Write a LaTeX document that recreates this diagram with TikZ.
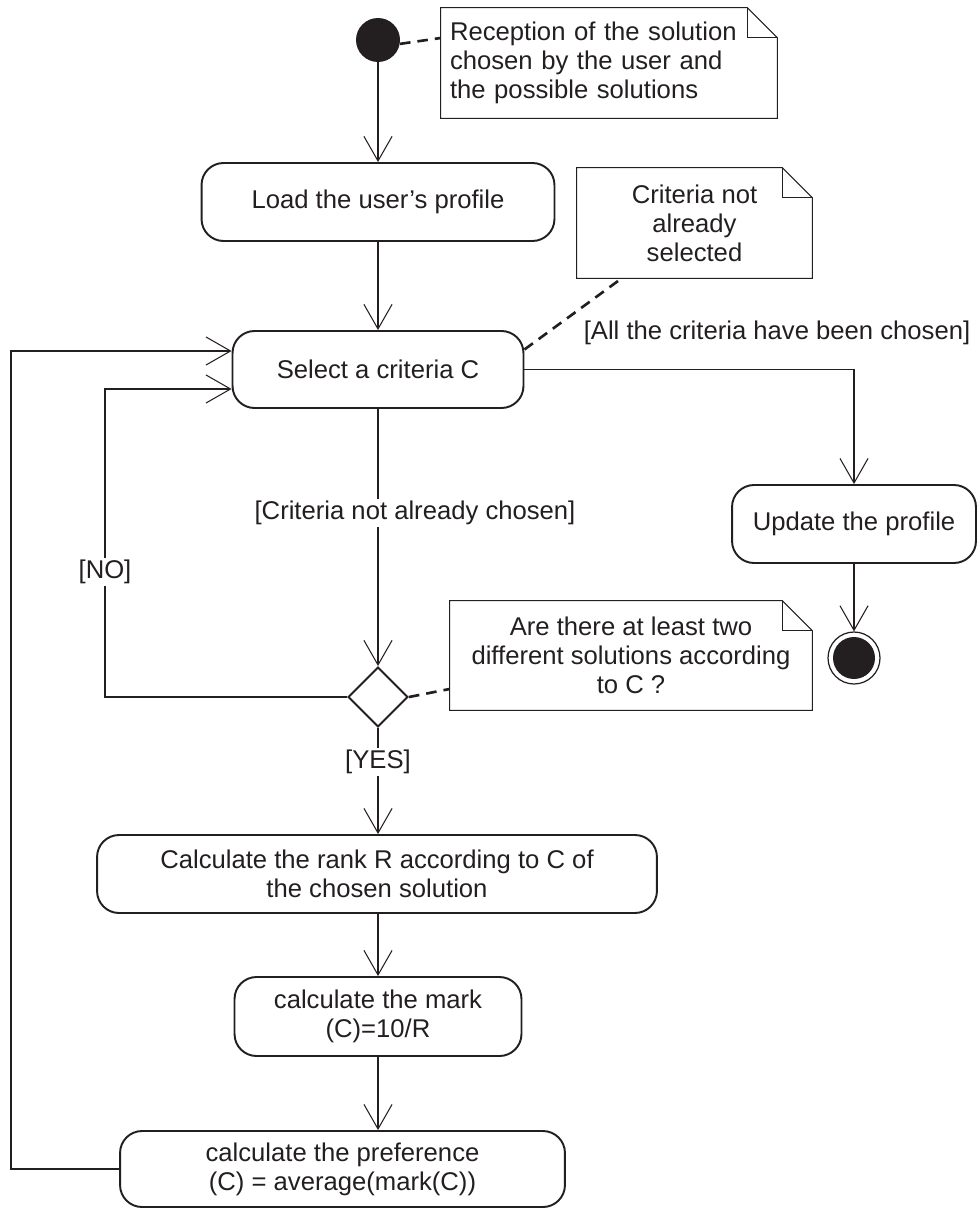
\documentclass[tikz,border=0pt]{standalone}
\usepackage{fontspec}
\setmainfont{Liberation Sans}
\usetikzlibrary{arrows.meta,shapes.geometric}
\definecolor{ink}{RGB}{35,31,32}
\begin{document}
\begin{tikzpicture}[x=0.02cm,y=-0.02cm,
  every node/.style={text=ink,font=\fontsize{14.6pt}{16.6pt}\selectfont},
  box/.style={draw=ink,rectangle,rounded corners=0.44cm,line width=1.1pt,align=center,inner sep=0pt},
  conn/.style={draw=ink,line width=0.6pt,-{Straight Barb[length=14pt,width=16pt,line width=0.6pt]}},
  dashline/.style={draw=ink,line width=1.5pt,dash pattern=on 6pt off 4pt},
  notebox/.style={rectangle,inner sep=0pt,align=center},
  lbl/.style={fill=white,inner sep=1pt}]
\useasboundingbox (0,0) rectangle (979,1209);

% nodes
\node[circle,fill=ink,minimum size=0.88cm,inner sep=0pt] (start) at (378,40) {};
\node[box,minimum width=7.06cm,minimum height=1.56cm] (load) at (378,202) {Load the user’s profile};
\node[box,minimum width=5.82cm,minimum height=1.54cm] (select) at (378,369.5) {Select a criteria C};
\node[box,minimum width=4.88cm,minimum height=1.56cm] (update) at (854,524) {Update the profile};
\node[circle,draw=ink,line width=0.7pt,minimum size=1.04cm,inner sep=0pt,
  path picture={\fill[ink] (path picture bounding box.center) circle (0.42cm);}] (end) at (854,658) {};
\node[diamond,draw=ink,line width=1.1pt,minimum width=1.2cm,minimum height=1.2cm,inner sep=0pt] (dec) at (378,697) {};
\node[box,minimum width=11.2cm,minimum height=1.56cm] (rank) at (377,874) {Calculate the rank R according to C of\\the chosen solution};
\node[box,minimum width=5.74cm,minimum height=1.58cm] (mark) at (378,1016.5) {calculate the mark\\(C)=10/R};
\node[box,minimum width=8.9cm,minimum height=1.52cm] (pref) at (342.5,1169) {calculate the preference\\(C) = average(mark(C))};

% notes
\node[notebox,text width=6.36cm,inner xsep=0.18cm,align=left,minimum height=2.2cm] (note1) at (609,63)
  {Reception of the solution\\chosen by the user and\\the possible solutions};
\node[notebox,minimum width=4.7cm,minimum height=2.2cm] (note2) at (694.5,223)
  {Criteria not\\already\\selected};
\node[notebox,minimum width=7.24cm,minimum height=2.18cm] (note3) at (631,655.5)
  {Are there at least two\\different solutions according\\to C ?};
\foreach \n in {note1,note2,note3}{
  \draw[ink,line width=0.6pt] (\n.south west) -- (\n.north west) -- ([xshift=-0.6cm]\n.north east)
    -- ([yshift=-0.6cm]\n.north east) -- (\n.south east) -- cycle;
  \draw[ink,line width=0.6pt] ([xshift=-0.6cm]\n.north east) |- ([yshift=-0.6cm]\n.north east);
}

% coordinates for bends
\coordinate (noturn) at (105,389);
\coordinate (outerturn) at (11,351);

% connectors
\draw[conn] (start) -- (load);
\draw[conn] (load) -- (select);
\draw[conn] (select.east) -| (update.north);
\draw[conn] (update) -- (end);
\draw[conn] (select) -- (dec);
\draw[conn] (dec.west) -| (noturn) -- (select.west |- noturn);
\draw[conn] (dec.south) -- (dec.south |- rank.north);
\draw[conn] (mark.north |- rank.south) -- (mark.north);
\draw[conn] (mark.south) -- (mark.south |- pref.north);
\draw[conn] (pref.west) -| (outerturn) -- (select.west |- outerturn);

% dashed anchors
\draw[dashline] (start.-10) -- ([yshift=0.5cm]note1.west);
\draw[dashline] ([yshift=0.4cm]select.east) -- ([xshift=0.9cm]note2.south west);
\draw[dashline] (dec.east) -- ([yshift=-0.67cm]note3.west);

% guard labels
\node (lall) at (777,333) {[All the criteria have been chosen]};
\node[lbl] (lcrit) at (415,513) {[Criteria not already chosen]};
\node[lbl] (lno) at (105,572) {[NO]};
\node[lbl] (lyes) at (378,762) {[YES]};
\end{tikzpicture}
\end{document}
